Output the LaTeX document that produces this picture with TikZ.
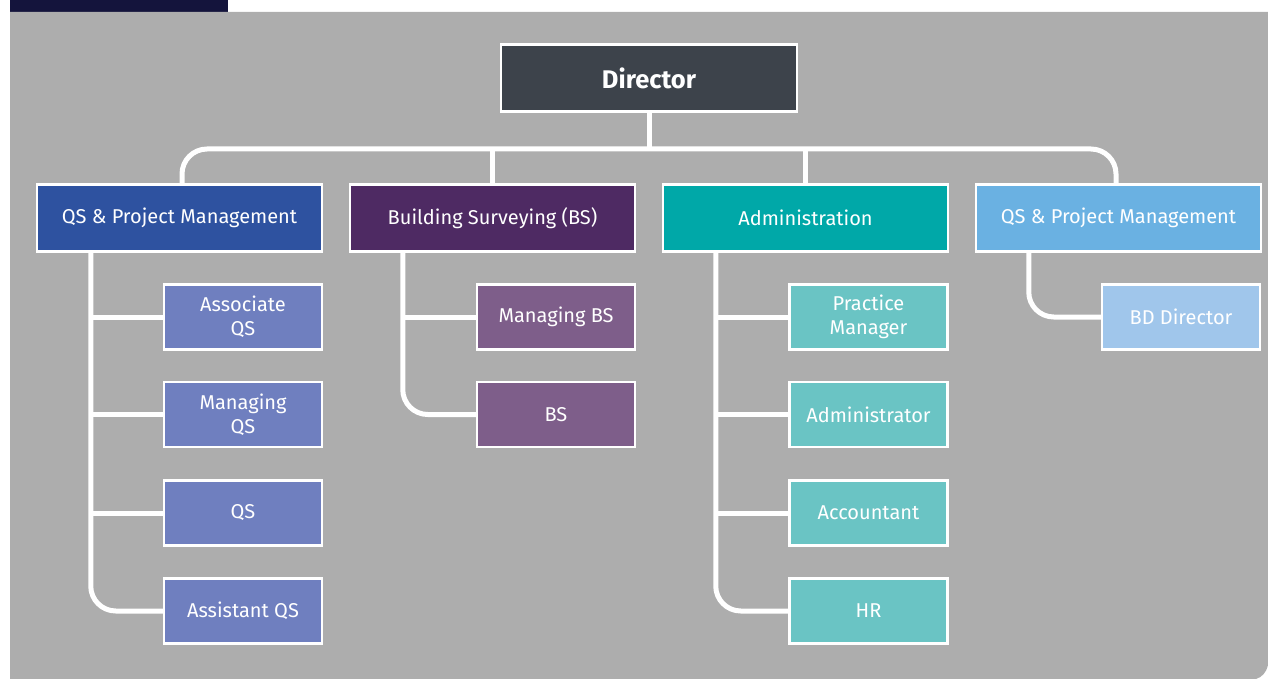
\documentclass[tikz,border=0pt]{standalone}
\usepackage{fontspec}
\setmainfont{Fira Sans}
\usetikzlibrary{calc}
\definecolor{bggray}{HTML}{ADADAD}
\definecolor{navy}{HTML}{14143C}
\definecolor{dircol}{HTML}{3D434B}
\definecolor{qsA}{HTML}{2E52A0}
\definecolor{bsA}{HTML}{4E2A63}
\definecolor{admA}{HTML}{00A8A8}
\definecolor{qsB}{HTML}{6AB1E2}
\definecolor{qsAc}{HTML}{6F7FBF}
\definecolor{bsAc}{HTML}{7E5E8A}
\definecolor{admAc}{HTML}{6AC4C4}
\definecolor{qsBc}{HTML}{A0C6EB}
\tikzset{
  box/.style={draw=white, line width=2.5pt, text=white, inner sep=0pt, align=center,
    font=\fontsize{20}{24}\selectfont},
  headbox/.style={box, minimum width=285pt, minimum height=67pt},
  childbox/.style={box, minimum width=158pt, minimum height=65pt},
  dirbox/.style={box, fill=dircol, minimum width=296pt, minimum height=67pt,
    font=\fontsize{25.5}{30}\selectfont\bfseries},
  conn/.style={draw=white, line width=5pt},
  curved/.style={conn, rounded corners=25pt},
}
\begin{document}
\begin{tikzpicture}[x=1pt,y=-1pt]
\useasboundingbox (0,0) rectangle (1268,679);
% background
\fill[navy] (10,0) rectangle (228,12);
\fill[bggray] (10,12) -- (1268,12) -- (1268,665) .. controls (1266,673) and (1262,677) .. (1256,679) -- (10,679) -- cycle;
% nodes
\node[dirbox] (dir) at (649,78) {Director};
\node[headbox, fill=qsA] (qs1) at (179.5,218) {QS \& Project Management};
\node[headbox, fill=bsA] (bs) at (492.5,218) {Building Surveying (BS)};
\node[headbox, fill=admA] (adm) at (805.5,218) {Administration};
\node[headbox, fill=qsB] (qs2) at (1118.5,218) {QS \& Project Management};
% QS children
\node[childbox, fill=qsAc] (aqs) at (243,317) {Associate\\QS};
\node[childbox, fill=qsAc] (mqs) at (243,414.5) {Managing\\QS};
\node[childbox, fill=qsAc] (qs) at (243,513) {QS};
\node[childbox, fill=qsAc] (asqs) at (243,611) {Assistant QS};
% BS children
\node[childbox, fill=bsAc] (mbs) at (556,317) {Managing BS};
\node[childbox, fill=bsAc] (bsc) at (556,414.5) {BS};
% Admin children
\node[childbox, fill=admAc] (pm) at (868.5,317) {Practice\\Manager};
\node[childbox, fill=admAc] (admr) at (868.5,414.5) {Administrator};
\node[childbox, fill=admAc] (acc) at (868.5,513) {Accountant};
\node[childbox, fill=admAc] (hr) at (868.5,611) {HR};
% QS2 child
\node[childbox, fill=qsBc] (bdd) at (1181,317) {BD Director};
% top connectors
\coordinate (bar) at (649,149);
\draw[conn] (dir.south) -- (bar);
\draw[curved] ([xshift=2.5pt]qs1.north) |- (bar) -| ([xshift=-2.5pt]qs2.north);
\draw[conn] (bs.north) -- (bs.north |- bar);
\draw[conn] (adm.north) -- (adm.north |- bar);
% QS branch
\coordinate (t1) at ([xshift=55pt]qs1.south west);
\draw[curved] (t1) |- (asqs.west);
\draw[conn] (aqs.west) -- (aqs.west -| t1);
\draw[conn] (mqs.west) -- (mqs.west -| t1);
\draw[conn] (qs.west) -- (qs.west -| t1);
% BS branch
\coordinate (t2) at ([xshift=54pt]bs.south west);
\draw[curved] (t2) |- (bsc.west);
\draw[conn] (mbs.west) -- (mbs.west -| t2);
% Admin branch
\coordinate (t3) at ([xshift=54pt]adm.south west);
\draw[curved] (t3) |- (hr.west);
\draw[conn] (pm.west) -- (pm.west -| t3);
\draw[conn] (admr.west) -- (admr.west -| t3);
\draw[conn] (acc.west) -- (acc.west -| t3);
% QS2 branch
\coordinate (t4) at ([xshift=54pt]qs2.south west);
\draw[curved] (t4) |- (bdd.west);
\end{tikzpicture}
\end{document}
